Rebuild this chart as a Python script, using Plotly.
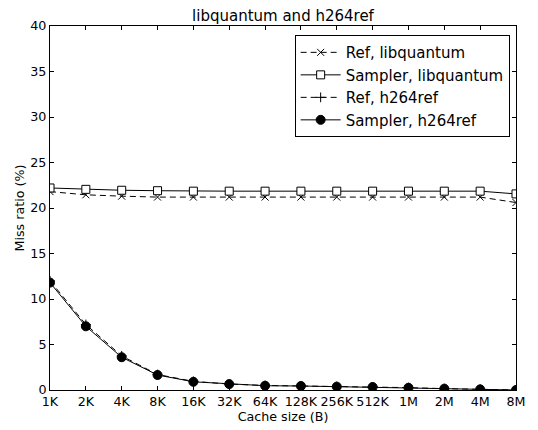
import plotly.graph_objects as go

cache_sizes = ["1K", "2K", "4K", "8K", "16K", "32K", "64K", "128K", "256K",
               "512K", "1M", "2M", "4M", "8M"]

ref_libquantum = [21.8, 21.45, 21.3, 21.2, 21.2, 21.2, 21.2, 21.2, 21.2,
                  21.2, 21.2, 21.2, 21.2, 20.6]
sampler_libquantum = [22.2, 22.05, 21.95, 21.9, 21.85, 21.85, 21.85, 21.85,
                      21.85, 21.85, 21.85, 21.85, 21.85, 21.55]
ref_h264ref = [12.0, 7.2, 3.75, 1.7, 0.95, 0.65, 0.5, 0.45, 0.38, 0.33,
               0.26, 0.15, 0.07, 0.0]
sampler_h264ref = [11.8, 7.0, 3.6, 1.65, 0.9, 0.65, 0.47, 0.44, 0.37, 0.33,
                   0.25, 0.15, 0.07, 0.0]

xpos = list(range(len(cache_sizes)))

fig = go.Figure()
fig.add_trace(go.Scatter(
    x=xpos, y=ref_libquantum, name="Ref, libquantum", mode="lines+markers",
    line=dict(color="black", width=1, dash="6px,4px"),
    marker=dict(symbol="x-thin", size=7, color="black",
                line=dict(color="black", width=1))))
fig.add_trace(go.Scatter(
    x=xpos, y=sampler_libquantum, name="Sampler, libquantum", mode="lines+markers",
    line=dict(color="black", width=1),
    marker=dict(symbol="square", size=8, color="white",
                line=dict(color="black", width=1))))
fig.add_trace(go.Scatter(
    x=xpos, y=ref_h264ref, name="Ref, h264ref", mode="lines+markers",
    line=dict(color="black", width=1, dash="6px,4px"),
    marker=dict(symbol="cross-thin", size=7, color="black",
                line=dict(color="black", width=1))))
fig.add_trace(go.Scatter(
    x=xpos, y=sampler_h264ref, name="Sampler, h264ref", mode="lines+markers",
    line=dict(color="black", width=1),
    marker=dict(symbol="circle", size=9, color="black",
                line=dict(color="black", width=1))))

axis_common = dict(
    showline=True, linecolor="black", linewidth=1, mirror="ticks",
    ticks="inside", ticklen=4, tickcolor="black", showgrid=False,
    zeroline=False, tickfont=dict(size=12.7, color="black"),
)

fig.update_layout(
    width=538, height=430,
    margin=dict(l=50, r=12, t=26, b=35),
    paper_bgcolor="white", plot_bgcolor="white",
    font=dict(family="DejaVu Sans", color="black", size=12.7),
    title=dict(text="libquantum and h264ref", x=0.5, xref="paper",
               xanchor="center", y=1, yref="paper", yanchor="bottom",
               pad=dict(b=5), font=dict(size=15)),
    xaxis=dict(range=[0, len(cache_sizes) - 1], tickvals=xpos,
               ticktext=cache_sizes,
               title=dict(text="Cache size (B)", standoff=0,
                          font=dict(size=12.7)),
               **axis_common),
    yaxis=dict(range=[0, 40], tickvals=list(range(0, 41, 5)),
               title=dict(text="Miss ratio (%)", standoff=2,
                          font=dict(size=12.7)),
               **axis_common),
    legend=dict(x=0.525, y=0.975, xanchor="left", yanchor="top",
                bgcolor="white", bordercolor="black", borderwidth=1,
                font=dict(size=15), tracegroupgap=0, itemwidth=40),
    showlegend=True,
)

fig.write_html("out.html")
